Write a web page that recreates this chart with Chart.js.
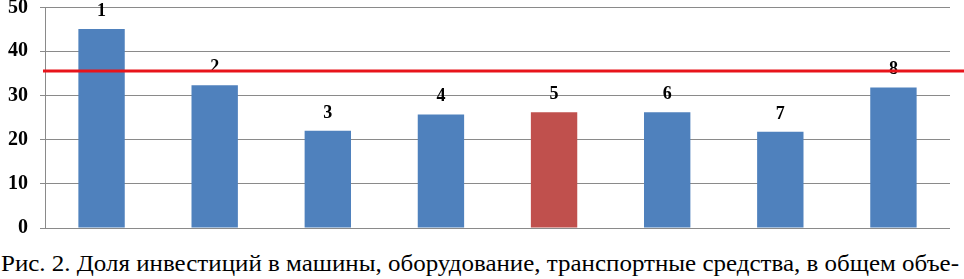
<!DOCTYPE html>
<html>
<head>
<meta charset="utf-8">
<script src="https://cdn.jsdelivr.net/npm/chart.js@4/dist/chart.umd.min.js"></script>
<style>
  html, body { margin: 0; padding: 0; background: #fff; }
  #wrap { position: relative; width: 964px; height: 279px; overflow: hidden; }
  #box { position: absolute; left: 0; top: 0; width: 964px; height: 240px; }
  #caption {
    position: absolute; left: 1px; top: 252px;
    font-family: 'Liberation Serif', 'Times New Roman', serif;
    font-size: 23px; line-height: 23px; color: #000;
    white-space: nowrap; transform-origin: 0 0;
  }
</style>
</head>
<body>
<div id="wrap">
  <div id="box"><canvas id="chart"></canvas></div>
  <div id="caption">Рис. 2. Доля инвестиций в машины, оборудование, транспортные средства, в общем объе-</div>
</div>
<script>
(function(){
  'use strict';

  // data
  const categories = ['1', '2', '3', '4', '5', '6', '7', '8'];
  const values = [45.0, 32.3, 22.0, 25.7, 26.2, 26.2, 21.8, 31.8];
  const barColors = ['#4f81bd', '#4f81bd', '#4f81bd', '#4f81bd', '#c0504d', '#4f81bd', '#4f81bd', '#4f81bd'];
  const yTicks = [0, 10, 20, 30, 40, 50];
  const refLevel = 35.5;

  const serif = "'Liberation Serif', 'Times New Roman', serif";

  // number above each bar
  const barLabels = {
    id: 'barLabels',
    afterDatasetsDraw(chart){
      const ctx = chart.ctx;
      const meta = chart.getDatasetMeta(0);
      ctx.save();
      ctx.font = 'bold 18px ' + serif;
      ctx.fillStyle = '#000';
      ctx.textAlign = 'center';
      ctx.textBaseline = 'alphabetic';
      meta.data.forEach((bar, i) => {
        ctx.fillText(categories[i], bar.x, bar.y - 13);
      });
      ctx.restore();
    }
  };

  // y tick labels, drawn here so they don't push the plot area around
  const yLabels = {
    id: 'yLabels',
    afterDraw(chart){
      const ctx = chart.ctx;
      const y = chart.scales.y;
      ctx.save();
      ctx.font = 'bold 20px ' + serif;
      ctx.fillStyle = '#000';
      ctx.textAlign = 'right';
      ctx.textBaseline = 'middle';
      yTicks.forEach(v => {
        ctx.fillText(String(v), 28, Math.max(y.getPixelForValue(v), 8));
      });
      ctx.restore();
    }
  };

  // red reference line
  const refLine = {
    id: 'refLine',
    afterDraw(chart){
      const ctx = chart.ctx;
      const y = chart.scales.y.getPixelForValue(refLevel);
      ctx.save();
      ctx.strokeStyle = '#e8141b';
      ctx.lineWidth = 3;
      ctx.beginPath();
      ctx.moveTo(chart.chartArea.left - 2, y);
      ctx.lineTo(chart.width, y);
      ctx.stroke();
      ctx.restore();
    }
  };

  new Chart(document.getElementById('chart'), {
    type: 'bar',
    data: {
      labels: categories,
      datasets: [{
        data: values,
        backgroundColor: barColors,
        borderWidth: 0,
        categoryPercentage: 0.82,
        barPercentage: 0.5
      }]
    },
    options: {
      responsive: true,
      maintainAspectRatio: false,
      animation: false,
      layout: { padding: { top: 7, right: 14, bottom: 12, left: 0 } },
      plugins: { legend: { display: false }, tooltip: { enabled: false } },
      scales: {
        x: { display: false },
        y: {
          min: 0, max: 50,
          afterFit(scale){ scale.width = 45; },
          afterBuildTicks(scale){ scale.ticks = yTicks.map(v => ({ value: v })); },
          ticks: { display: false },
          grid: { color: '#8a8a8a', lineWidth: 1, tickLength: 5 },
          border: { color: '#8a8a8a', width: 1 }
        }
      }
    },
    plugins: [barLabels, yLabels, refLine]
  });

  // caption glyphs are stretched sideways in the original; fit to line width
  const cap = document.getElementById('caption');
  const w = cap.getBoundingClientRect().width;
  cap.style.transform = 'scaleX(' + (958 / w) + ')';
})();
</script>
</body>
</html>
